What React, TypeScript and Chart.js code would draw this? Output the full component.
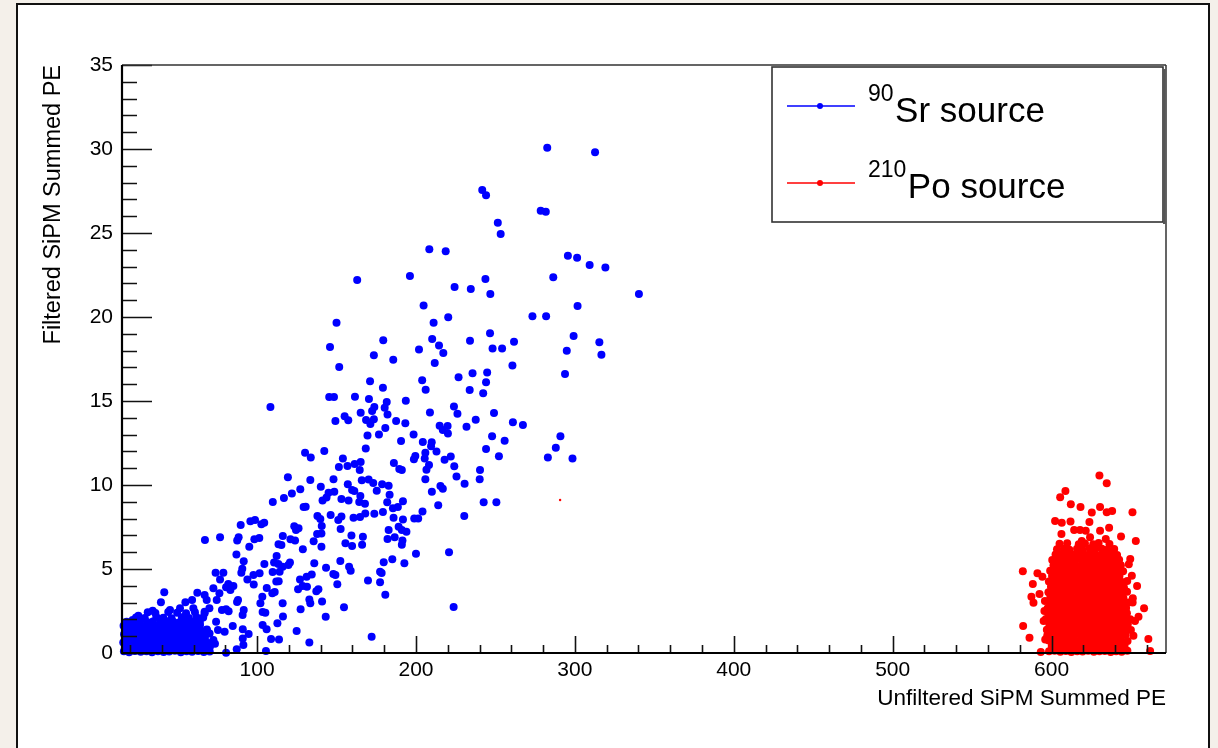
import React, { useEffect, useRef } from "react";
import { Chart, registerables } from "chart.js";

Chart.register(...registerables);

// ---------------- axis ranges & ticks ----------------
const xRange = [15, 672];
const yRange = [0, 35];
const xMajorTicks = [100, 200, 300, 400, 500, 600];
const yMajorTicks = [0, 5, 10, 15, 20, 25, 30, 35];
const xMinorStep = 20;
const yMinorStep = 1;

const xTitle = "Unfiltered SiPM Summed PE";
const yTitle = "Filtered SiPM Summed PE";
const legendSups = ["90", "210"];
const legendLabels = ["Sr source", "Po source"];
const seriesColors = ["#0000ff", "#ff0000"];

// ---------------- 90Sr source ----------------
const sr90Upper: [number, number][] = [
  [282.6,30.08],[312.7,29.8],[241.7,27.56],[244.1,27.24],[278.5,26.33],[281.7,26.27],[251.5,25.61],[253.3,24.94],
  [208.4,24.03],[218.7,23.91],[295.6,23.65],[301.4,23.53],[309.3,23.09],[319.2,22.94],[163.0,22.2],[196.2,22.44],
  [243.7,22.26],[286.4,22.36],[224.3,21.78],[234.5,21.67],[246.8,21.37],[340.3,21.37],[204.8,20.69],[301.7,20.65],
  [273.3,20.04],[281.9,20.04],[220.3,19.98],[150.0,19.66],[211.1,19.66],[246.6,19.03],[299.2,18.87],[210.2,18.69],
  [234.0,18.59],[261.7,18.53],[315.4,18.49],[179.4,18.61],[145.9,18.21],[214.5,18.31],[201.9,18.06],[248.2,18.13],
  [254.2,18.13],[294.9,17.99],[217.2,17.86],[173.5,17.72],[316.7,17.76],[185.7,17.46],[211.8,17.26],[151.7,17.02],
  [260.7,17.12],[235.6,16.65],[244.8,16.69],[293.8,16.61],[226.8,16.41],[171.1,16.17],[203.9,16.23],[244.1,16.11],
  [179.2,15.79],[206.1,15.67],[233.8,15.65],[242.3,15.46],[145.4,15.24],[148.4,15.24],[161.6,15.26],[170.4,15.12],
  [193.6,15.02],[108.4,14.64],[181.6,14.94],[223.9,14.68],[180.3,14.6],[173.8,14.64],[172.4,14.4],[165.2,14.3],
  [208.8,14.32],[249.1,14.28],[182.1,14.2],[226.1,14.24],[237.6,13.89],[155.1,14.09],[157.4,13.85],[149.3,13.81],
  [168.6,13.87],[173.5,13.91],[187.5,13.81],[171.3,13.63],[193.3,13.67],[214.9,13.53],[219.9,13.51],[231.8,13.47],
  [261.0,13.73],[267.3,13.57],[180.7,13.39],[216.9,13.27],[220.1,13.07],[198.5,13.01],[169.5,12.94],[176.7,13.0],
  [247.9,12.9],[290.9,12.9],[190.6,12.62],[204.3,12.56],[209.9,12.54],[255.8,12.64],[288.0,12.22],[168.4,12.18],
  [209.5,12.3],[212.9,12.0],[244.1,12.14],[283.0,11.63],[298.5,11.57],[252.2,11.71],[221.9,11.69],[218.0,11.51],
  [205.9,11.92],[199.6,11.73],[198.7,11.53],[205.5,11.57],[224.1,11.11],[208.2,11.19],[206.6,10.91],[189.5,10.95],
  [191.1,10.89],[186.1,11.31],[240.3,10.89],[130.2,11.92],[133.8,11.63],[142.3,12.02],[154.0,11.57],[151.5,11.07],
  [156.9,11.13],[161.4,11.25],[165.2,11.37],[164.6,10.89],[119.4,10.46],[133.5,10.3],[148.1,10.34],[140.1,9.9],
  [157.1,10.04],[165.9,10.28],[170.2,10.32],[173.1,10.12],[178.7,10.04],[182.8,9.96],[205.9,10.34],[225.5,10.5],
  [230.6,10.08],[240.1,10.34],[215.4,9.94],[216.9,9.78],[210.0,9.6],[127.2,9.74],[121.9,9.5],[116.9,9.23],
  [109.9,8.99],[143.7,9.26],[148.6,9.6],[141.2,9.07],[145.0,9.54],[159.8,9.7],[161.2,9.64],[175.3,9.66],
  [183.4,9.42],[153.1,9.17],[157.6,9.07],[165.0,9.35],[164.3,8.99],[167.9,8.89],[181.9,8.97],[191.8,9.03],
  [185.5,8.61],[188.6,8.69],[242.6,8.97],[250.6,8.97],[214.0,8.79],[130.6,8.71],[129.3,8.69],[204.1,8.43],
  [198.9,8.01],[201.4,8.01],[191.8,7.94],[185.9,8.05],[173.8,8.29],[179.2,8.39],[168.1,8.31],[230.4,8.15],
  [146.3,8.21],[138.0,8.15],[139.8,7.97],[153.1,8.13],[151.1,7.92],[160.7,8.05],[164.8,8.1],[89.7,7.62],
  [95.8,7.84],[98.7,7.92],[102.7,7.66],[104.5,7.76],[76.7,6.89],[67.2,6.73],[87.5,6.69],[88.4,6.89],
  [98.3,6.77],[101.4,6.85],[123.4,7.54],[124.5,7.32],[126.1,7.42],[140.7,7.56],[140.5,7.12],[137.8,7.08],
  [152.6,7.38],[182.8,7.32],[189.1,7.52],[191.1,7.32],[194.0,7.22],[116.2,6.96],[121.0,6.77],[123.9,6.69],
  [135.6,6.65],[159.4,7.0],[166.6,6.92],[155.6,6.53],[159.8,6.37],[166.1,6.45],[182.1,6.79],[186.6,6.89],
  [191.5,6.69],[191.1,6.45],[113.5,6.47],[115.3,6.43],[95.1,6.33],[128.8,6.17],[140.5,6.33],
];

const sr90Middle: [number, number][] = [
  [200.0,5.91],[220.8,5.99],[179.7,5.4],[185.1,5.58],[192.7,5.34],[177.4,4.84],[178.4,4.76],[169.8,4.31],
  [177.4,4.21],[180.7,3.47],[154.7,2.72],[223.7,2.74],[158.9,4.9],[157.9,5.14],[152.4,5.48],[143.4,5.08],
  [149.3,4.64],[148.0,4.7],[150.5,4.09],[138.6,3.79],[137.3,3.67],[140.9,3.06],[132.9,3.19],[133.5,2.96],
  [127.4,2.6],[143.2,2.16],[136.0,5.34],[134.4,4.68],[131.2,4.54],[127.0,4.38],[128.7,3.99],[125.8,3.79],
  [131.4,3.95],[120.7,5.38],[119.7,5.24],[116.1,5.14],[113.4,5.3],[110.7,5.38],[112.3,5.77],[114.2,4.84],
  [109.8,4.82],[112.1,4.25],[113.6,4.27],[111.1,3.63],[116.1,2.96],[116.3,2.18],[109.6,3.55],[106.1,3.87],
  [103.3,3.35],[102.1,2.96],[103.5,2.44],[105.2,2.4],[101.6,4.74],[104.6,5.3],[97.7,4.64],[97.9,4.07],
  [93.9,4.38],[90.7,5.02],[91.6,5.46],[87.0,5.87],[90.1,4.78],[88.0,3.15],[87.4,3.04],[82.1,2.48],
  [80.5,2.6],[91.6,2.56],[90.9,2.26],[81.9,4.11],[80.5,3.91],[85.1,3.99],[83.2,3.75],[76.7,4.38],
  [73.9,4.78],[78.8,4.78],[72.5,3.85],[76.3,3.55],[67.0,3.45],[68.3,3.15],[74.6,3.15],[70.0,2.66],
  [77.9,2.56],[67.0,2.36],
];

const sr90Lower: [number, number][] = [
  [41.6,3.61],[39.5,3.02],[34.3,2.52],[25.3,2.22],[21.7,1.96],[45.2,2.56],[51.5,2.66],[54.9,3.02],
  [59.1,3.15],[62.4,3.59],[59.9,2.66],[74.2,1.86],[172.1,0.97],[132.9,0.62],[124.9,1.31],[113.8,0.81],
  [108.8,0.83],[106.0,1.41],[112.8,1.77],[103.5,1.67],[105.6,0.12],[91.4,0.48],[87.2,0.22],[80.5,0.02],
  [91.0,0.87],[94.7,1.13],[91.0,1.41],[84.7,1.61],[79.6,1.27],[75.4,1.37],[72.5,0.77],[70.4,0.38],
  [66.2,0.87],[68.3,1.37],[64.1,1.67],[59.9,0.57],[62.0,0.18],[66.2,0.18],
];

const sr90Core: [number, number][] = [
  [16.2,0.1],[19.5,0.05],[23.1,0.12],[26.8,0.07],[30.4,0.1],[33.9,0.04],[37.6,0.11],[41.2,0.06],
  [44.7,0.09],[48.3,0.13],[52.0,0.05],[55.6,0.1],[59.1,0.08],[62.9,0.12],[66.5,0.06],[70.2,0.09],
  [17.4,0.36],[21.0,0.31],[24.7,0.38],[28.2,0.33],[31.9,0.37],[35.5,0.3],[39.0,0.35],[42.6,0.4],
  [46.3,0.32],[49.9,0.36],[53.4,0.34],[57.1,0.39],[60.8,0.31],[64.3,0.36],[68.0,0.33],
  [15.8,0.62],[19.3,0.58],[22.6,0.64],[26.2,0.6],[29.9,0.57],[33.6,0.63],[37.2,0.59],[40.7,0.65],
  [44.4,0.61],[47.8,0.56],[51.5,0.62],[55.2,0.6],[58.6,0.66],[62.3,0.58],[65.9,0.63],[69.4,0.6],[73.5,0.55],
  [18.1,0.86],[21.7,0.83],[25.3,0.88],[28.8,0.84],[32.4,0.87],[36.1,0.82],[39.6,0.89],[43.2,0.85],
  [46.8,0.83],[50.3,0.88],[53.9,0.84],[57.5,0.86],[61.0,0.81],[64.6,0.88],[67.2,0.9],
  [16.3,1.12],[19.8,1.08],[23.4,1.14],[27.0,1.1],[30.6,1.07],[34.2,1.13],[37.8,1.09],[41.3,1.15],
  [44.9,1.1],[48.5,1.06],[52.1,1.12],[55.7,1.08],[59.2,1.13],[62.6,1.1],[66.3,1.05],[70.1,1.16],
  [17.6,1.36],[21.2,1.33],[24.8,1.38],[28.5,1.34],[32.0,1.37],[35.7,1.32],[39.3,1.39],[42.9,1.35],
  [46.4,1.31],[50.0,1.37],[53.6,1.34],[57.3,1.38],[60.7,1.33],[64.2,1.36],[68.4,1.4],
  [16.0,1.62],[19.6,1.58],[23.2,1.63],[26.9,1.6],[30.5,1.57],[34.8,1.64],[38.1,1.59],[41.8,1.61],
  [45.6,1.56],[49.2,1.63],[52.8,1.6],[56.4,1.58],[60.0,1.64],[63.5,1.57],
  [17.9,1.86],[22.0,1.83],[26.1,1.88],[30.7,1.84],[34.4,1.87],[38.9,1.82],[43.0,1.89],[47.5,1.85],
  [51.2,1.83],[55.0,1.88],[59.4,1.84],[64.0,1.86],
  [23.8,2.12],[29.3,2.08],[36.6,2.14],[41.0,2.1],[46.2,2.07],[52.7,2.13],[57.0,2.09],[61.8,2.15],[66.1,2.11],
  [31.2,2.42],[36.0,2.38],[44.1,2.44],[49.7,2.4],[55.3,2.37],[60.9,2.43],[67.0,2.45],
];

// ---------------- 210Po source ----------------
const po210Fringe: [number, number][] = [
  [630.1,10.56],[634.7,10.1],[608.7,9.64],[605.4,9.27],[612.1,8.85],[618.2,8.69],[630.5,8.69],[625.3,8.36],
  [634.7,8.38],[638.1,8.45],[650.9,8.38],[602.2,7.86],[606.4,7.76],[611.9,7.82],[623.8,7.8],[614.2,7.32],
  [617.9,7.32],[621.5,7.28],[630.5,7.28],[636.2,7.46],[606.2,7.09],[643.7,6.93],[653.0,6.67],[619.0,6.67],
  [624.2,6.89],[634.1,6.79],[581.9,4.86],[591.1,4.74],[594.2,4.54],[588.2,4.11],[592.4,3.51],[587.3,3.35],
  [588.6,2.99],[648.6,5.28],[653.8,3.99],[651.1,3.26],[658.2,2.66],[654.7,2.16],[582.1,1.61],[586.1,0.91],
  [660.9,0.83],[662.0,0.12],[593.2,0.06],[651.5,1.03],[595.5,2.5],[595.0,1.9],[596.0,0.8],[595.8,3.1],
  [650.5,4.6],[651.0,3.0],[649.5,5.6],[652.5,1.9],
];

const po210Core: [number, number][] = [
  [598.4,0.1],[601.9,0.14],[605.5,0.08],[609.0,0.12],[612.4,0.06],[616.1,0.11],[619.5,0.09],[623.0,0.13],
  [626.6,0.07],[630.1,0.1],[633.5,0.12],[637.2,0.06],[640.6,0.1],[644.1,0.08],[647.7,0.13],
  [600.1,0.42],[603.7,0.45],[607.2,0.39],[610.6,0.43],[614.3,0.4],[617.8,0.46],[621.2,0.41],[624.9,0.38],
  [628.3,0.44],[631.9,0.42],[635.4,0.4],[638.8,0.45],[642.5,0.41],[645.9,0.43],
  [598.2,0.74],[601.6,0.71],[605.3,0.77],[608.7,0.73],[612.2,0.75],[615.8,0.7],[619.3,0.76],[622.8,0.72],
  [626.4,0.78],[629.9,0.74],[633.3,0.71],[637.0,0.76],[640.5,0.73],[643.9,0.75],[647.8,0.72],
  [597.3,1.06],[600.8,1.09],[604.4,1.03],[607.9,1.07],[611.3,1.05],[615.0,1.1],[618.4,1.04],[621.9,1.08],
  [625.6,1.02],[629.0,1.06],[632.5,1.09],[636.1,1.05],[639.6,1.07],[643.2,1.03],[646.6,1.08],
  [597.0,1.38],[600.5,1.41],[604.0,1.35],[607.6,1.39],[611.1,1.36],[614.6,1.42],[618.2,1.37],[621.7,1.4],
  [625.2,1.34],[628.8,1.38],[632.3,1.41],[635.8,1.36],[639.4,1.39],[642.9,1.35],[646.4,1.4],[649.9,1.37],
  [598.6,1.7],[602.2,1.73],[605.7,1.67],[609.2,1.71],[612.8,1.68],[616.3,1.74],[619.9,1.69],[623.4,1.72],
  [626.9,1.66],[630.5,1.7],[634.0,1.73],[637.6,1.68],[641.1,1.71],[644.6,1.67],[648.0,1.72],
  [596.4,2.02],[599.9,2.05],[603.5,1.99],[607.0,2.03],[610.5,2.0],[614.1,2.06],[617.6,2.01],[621.1,2.04],
  [624.7,1.98],[628.2,2.02],[631.7,2.05],[635.3,2.0],[638.8,2.03],[642.3,1.99],[645.9,2.04],[649.5,2.01],
  [598.1,2.34],[601.7,2.37],[605.2,2.31],[608.6,2.35],[612.3,2.32],[615.7,2.38],[619.2,2.33],[622.9,2.36],
  [626.3,2.3],[629.8,2.34],[633.4,2.37],[636.9,2.32],[640.3,2.35],[644.0,2.31],[647.4,2.36],
  [597.5,2.66],[601.0,2.69],[604.6,2.63],[608.1,2.67],[611.5,2.64],[615.2,2.7],[618.6,2.65],[622.1,2.68],
  [625.8,2.62],[629.2,2.66],[632.7,2.69],[636.3,2.64],[639.8,2.67],[643.3,2.63],[646.9,2.68],
  [598.9,2.98],[602.4,3.01],[605.9,2.95],[609.5,2.99],[613.0,2.96],[616.5,3.02],[620.1,2.97],[623.6,3.0],
  [627.1,2.94],[630.7,2.98],[634.2,3.01],[637.7,2.96],[641.3,2.99],[644.8,2.95],[648.3,3.0],
  [599.2,3.3],[602.8,3.33],[606.3,3.27],[609.8,3.31],[613.4,3.28],[616.9,3.34],[620.4,3.29],[624.0,3.32],
  [627.5,3.26],[631.0,3.3],[634.6,3.33],[638.1,3.28],[641.6,3.31],[645.2,3.27],
  [598.0,3.62],[601.5,3.65],[605.1,3.59],[608.6,3.63],[612.1,3.6],[615.7,3.66],[619.2,3.61],[622.7,3.64],
  [626.3,3.58],[629.8,3.62],[633.3,3.65],[636.9,3.6],[640.4,3.63],[643.9,3.59],[647.5,3.64],
  [599.6,3.94],[603.1,3.97],[606.7,3.91],[610.2,3.95],[613.7,3.92],[617.3,3.98],[620.8,3.93],[624.3,3.96],
  [627.9,3.9],[631.4,3.94],[634.9,3.97],[638.5,3.92],[642.0,3.95],[645.5,3.91],
  [598.3,4.26],[601.9,4.29],[605.4,4.23],[608.9,4.27],[612.5,4.24],[616.0,4.3],[619.5,4.25],[623.1,4.28],
  [626.6,4.22],[630.1,4.26],[633.7,4.29],[637.2,4.24],[640.7,4.27],[644.3,4.23],[647.6,4.28],
  [600.3,4.58],[603.8,4.61],[607.4,4.55],[610.9,4.59],[614.4,4.56],[618.0,4.62],[621.5,4.57],[625.0,4.6],
  [628.6,4.54],[632.1,4.58],[635.6,4.61],[639.2,4.56],[642.7,4.59],
  [599.1,4.9],[602.6,4.93],[606.2,4.87],[609.7,4.91],[613.2,4.88],[616.8,4.94],[620.3,4.89],[623.8,4.92],
  [627.4,4.86],[630.9,4.9],[634.4,4.93],[638.0,4.88],[641.5,4.91],[645.0,4.87],
  [601.2,5.22],[604.7,5.25],[608.3,5.19],[611.8,5.23],[615.3,5.2],[618.9,5.26],[622.4,5.21],[625.9,5.24],
  [629.5,5.18],[633.0,5.22],[636.5,5.25],[640.1,5.2],[643.6,5.23],
  [600.4,5.54],[603.9,5.57],[607.5,5.51],[611.0,5.55],[614.5,5.52],[618.1,5.58],[621.6,5.53],[625.1,5.56],
  [628.7,5.5],[632.2,5.54],[635.7,5.57],[639.3,5.52],[642.5,5.55],
  [602.5,5.86],[606.0,5.89],[609.6,5.83],[613.1,5.87],[616.6,5.84],[620.2,5.9],[623.7,5.85],[627.2,5.88],
  [630.8,5.82],[634.3,5.86],[637.8,5.89],[641.2,5.84],
  [603.4,6.18],[607.8,6.21],[611.2,6.15],[616.0,6.2],[619.4,6.16],[623.9,6.22],[627.5,6.17],[631.6,6.2],
  [635.0,6.14],[639.4,6.19],
  [605.0,6.5],[609.8,6.53],[617.1,6.47],[621.0,6.52],[626.2,6.48],[629.6,6.55],[636.4,6.49],
];

const po210Stray: [number, number][] = [[290.7, 9.11]];

const toXY = (arr: [number, number][]) => arr.map(([x, y]) => ({ x, y }));

const FONT = "'Liberation Sans', Arial, Helvetica, sans-serif";

const rootStylePlugin = {
  id: "rootStyle",
  beforeDraw(chart: any) {
    const ctx = chart.ctx;
    ctx.save();
    ctx.fillStyle = "#f4f0ea";
    ctx.fillRect(0, 0, chart.width, chart.height);
    ctx.fillStyle = "#ffffff";
    ctx.fillRect(17, 4, 1192, 760);
    ctx.strokeStyle = "#111111";
    ctx.lineWidth = 2;
    ctx.strokeRect(17, 4, 1192, 760);
    ctx.restore();
  },
  afterDatasetsDraw(chart: any) {
    const ctx = chart.ctx;
    const a = chart.chartArea;
    const xs = chart.scales.x;
    const ys = chart.scales.y;
    ctx.save();
    ctx.strokeStyle = "#111111";
    ctx.lineWidth = 1.6;
    ctx.beginPath();
    for (let v = yRange[0]; v <= yRange[1]; v += yMinorStep) {
      const p = Math.round(ys.getPixelForValue(v)) + 0.5;
      const len = yMajorTicks.includes(v) ? 30 : 15;
      ctx.moveTo(a.left, p);
      ctx.lineTo(a.left + len, p);
    }
    for (let v = xMinorStep; v < xRange[1]; v += xMinorStep) {
      if (v < xRange[0]) continue;
      const p = Math.round(xs.getPixelForValue(v)) + 0.5;
      const len = xMajorTicks.includes(v) ? 17 : 8;
      ctx.moveTo(p, a.bottom);
      ctx.lineTo(p, a.bottom - len);
    }
    ctx.stroke();
    ctx.strokeStyle = "#333333";
    ctx.lineWidth = 1.5;
    ctx.beginPath();
    ctx.moveTo(a.left, a.top);
    ctx.lineTo(a.right, a.top);
    ctx.moveTo(a.right, a.top);
    ctx.lineTo(a.right, a.bottom);
    ctx.stroke();
    ctx.strokeStyle = "#000000";
    ctx.lineWidth = 2.2;
    ctx.beginPath();
    ctx.moveTo(a.left, a.top);
    ctx.lineTo(a.left, a.bottom);
    ctx.lineTo(a.right, a.bottom);
    ctx.stroke();
    ctx.restore();
  },
  afterDraw(chart: any) {
    const ctx = chart.ctx;
    const a = chart.chartArea;
    ctx.save();
    ctx.fillStyle = "#000000";
    ctx.font = `22.5px ${FONT}`;
    ctx.textAlign = "right";
    ctx.textBaseline = "alphabetic";
    ctx.fillText(xTitle, a.right, 705);
    ctx.save();
    ctx.translate(60, a.top);
    ctx.rotate(-Math.PI / 2);
    ctx.font = `23.5px ${FONT}`;
    ctx.textAlign = "right";
    ctx.fillText(yTitle, 0, 0);
    ctx.restore();

    const lx = 772, ly = 67, lw = 391, lh = 155;
    ctx.fillStyle = "#ffffff";
    ctx.fillRect(lx, ly, lw, lh);
    ctx.strokeStyle = "#333333";
    ctx.lineWidth = 1.6;
    ctx.strokeRect(lx, ly, lw, lh);
    ctx.fillStyle = "#555555";
    ctx.fillRect(lx + lw, ly + 2, 2.5, lh);

    const rowsY = [106, 183];
    const baseY = [122, 198];
    for (let i = 0; i < legendLabels.length; i++) {
      const c = seriesColors[i];
      ctx.strokeStyle = c;
      ctx.lineWidth = 1.5;
      ctx.beginPath();
      ctx.moveTo(787, rowsY[i]);
      ctx.lineTo(855, rowsY[i]);
      ctx.stroke();
      ctx.fillStyle = c;
      ctx.beginPath();
      ctx.arc(820, rowsY[i], 3, 0, Math.PI * 2);
      ctx.fill();

      ctx.fillStyle = "#000000";
      ctx.textAlign = "left";
      ctx.textBaseline = "alphabetic";
      ctx.font = `23px ${FONT}`;
      ctx.fillText(legendSups[i], 868, baseY[i] - 21);
      const sw = ctx.measureText(legendSups[i]).width;
      ctx.font = `35px ${FONT}`;
      ctx.fillText(legendLabels[i], 868 + sw + 1.5, baseY[i]);
    }
    ctx.restore();
  },
};

export default function App() {
  const canvasRef = useRef<HTMLCanvasElement | null>(null);

  useEffect(() => {
    const canvas = canvasRef.current;
    if (!canvas) return;
    const pointCommon = {
      showLine: false,
      pointBorderWidth: 0,
      clip: false as any,
    };
    const chart = new Chart(canvas, {
      type: "scatter",
      data: {
        datasets: [
          {
            label: "90Sr source",
            data: toXY([...sr90Core, ...sr90Lower, ...sr90Middle, ...sr90Upper]),
            pointRadius: 4,
            pointHoverRadius: 4,
            backgroundColor: seriesColors[0],
            borderColor: seriesColors[0],
            ...pointCommon,
          },
          {
            label: "210Po source",
            data: toXY([...po210Core, ...po210Fringe]),
            pointRadius: 4,
            pointHoverRadius: 4,
            backgroundColor: seriesColors[1],
            borderColor: seriesColors[1],
            ...pointCommon,
          },
          {
            label: "stray",
            data: toXY(po210Stray),
            pointRadius: 1.2,
            pointHoverRadius: 1.2,
            backgroundColor: seriesColors[1],
            borderColor: seriesColors[1],
            ...pointCommon,
          },
        ],
      },
      options: {
        animation: false,
        responsive: false,
        devicePixelRatio: 1,
        events: [],
        layout: { padding: { left: 0, top: 65, right: 52, bottom: 0 } },
        plugins: {
          legend: { display: false },
          tooltip: { enabled: false },
          title: { display: false },
        },
        scales: {
          x: {
            type: "linear",
            min: xRange[0],
            max: xRange[1],
            grid: { display: true, drawOnChartArea: false, drawTicks: false },
            border: { display: false },
            afterBuildTicks: (s: any) => {
              s.ticks = xMajorTicks.map((v) => ({ value: v }));
            },
            afterFit: (s: any) => {
              s.height = 95;
            },
            ticks: {
              autoSkip: false,
              maxRotation: 0,
              padding: 5,
              color: "#000000",
              font: { family: FONT, size: 21 },
            },
          },
          y: {
            type: "linear",
            min: yRange[0],
            max: yRange[1],
            grid: { display: true, drawOnChartArea: false, drawTicks: false },
            border: { display: false },
            afterBuildTicks: (s: any) => {
              s.ticks = yMajorTicks.map((v) => ({ value: v }));
            },
            afterFit: (s: any) => {
              s.width = 122;
            },
            ticks: {
              autoSkip: false,
              padding: 9,
              color: "#000000",
              font: { family: FONT, size: 21 },
            },
          },
        },
      },
      plugins: [rootStylePlugin],
    });
    return () => chart.destroy();
  }, []);

  return (
    <div style={{ position: "fixed", left: 0, top: 0, width: 1218, height: 748 }}>
      <canvas ref={canvasRef} width={1218} height={748} style={{ display: "block" }} />
    </div>
  );
}
